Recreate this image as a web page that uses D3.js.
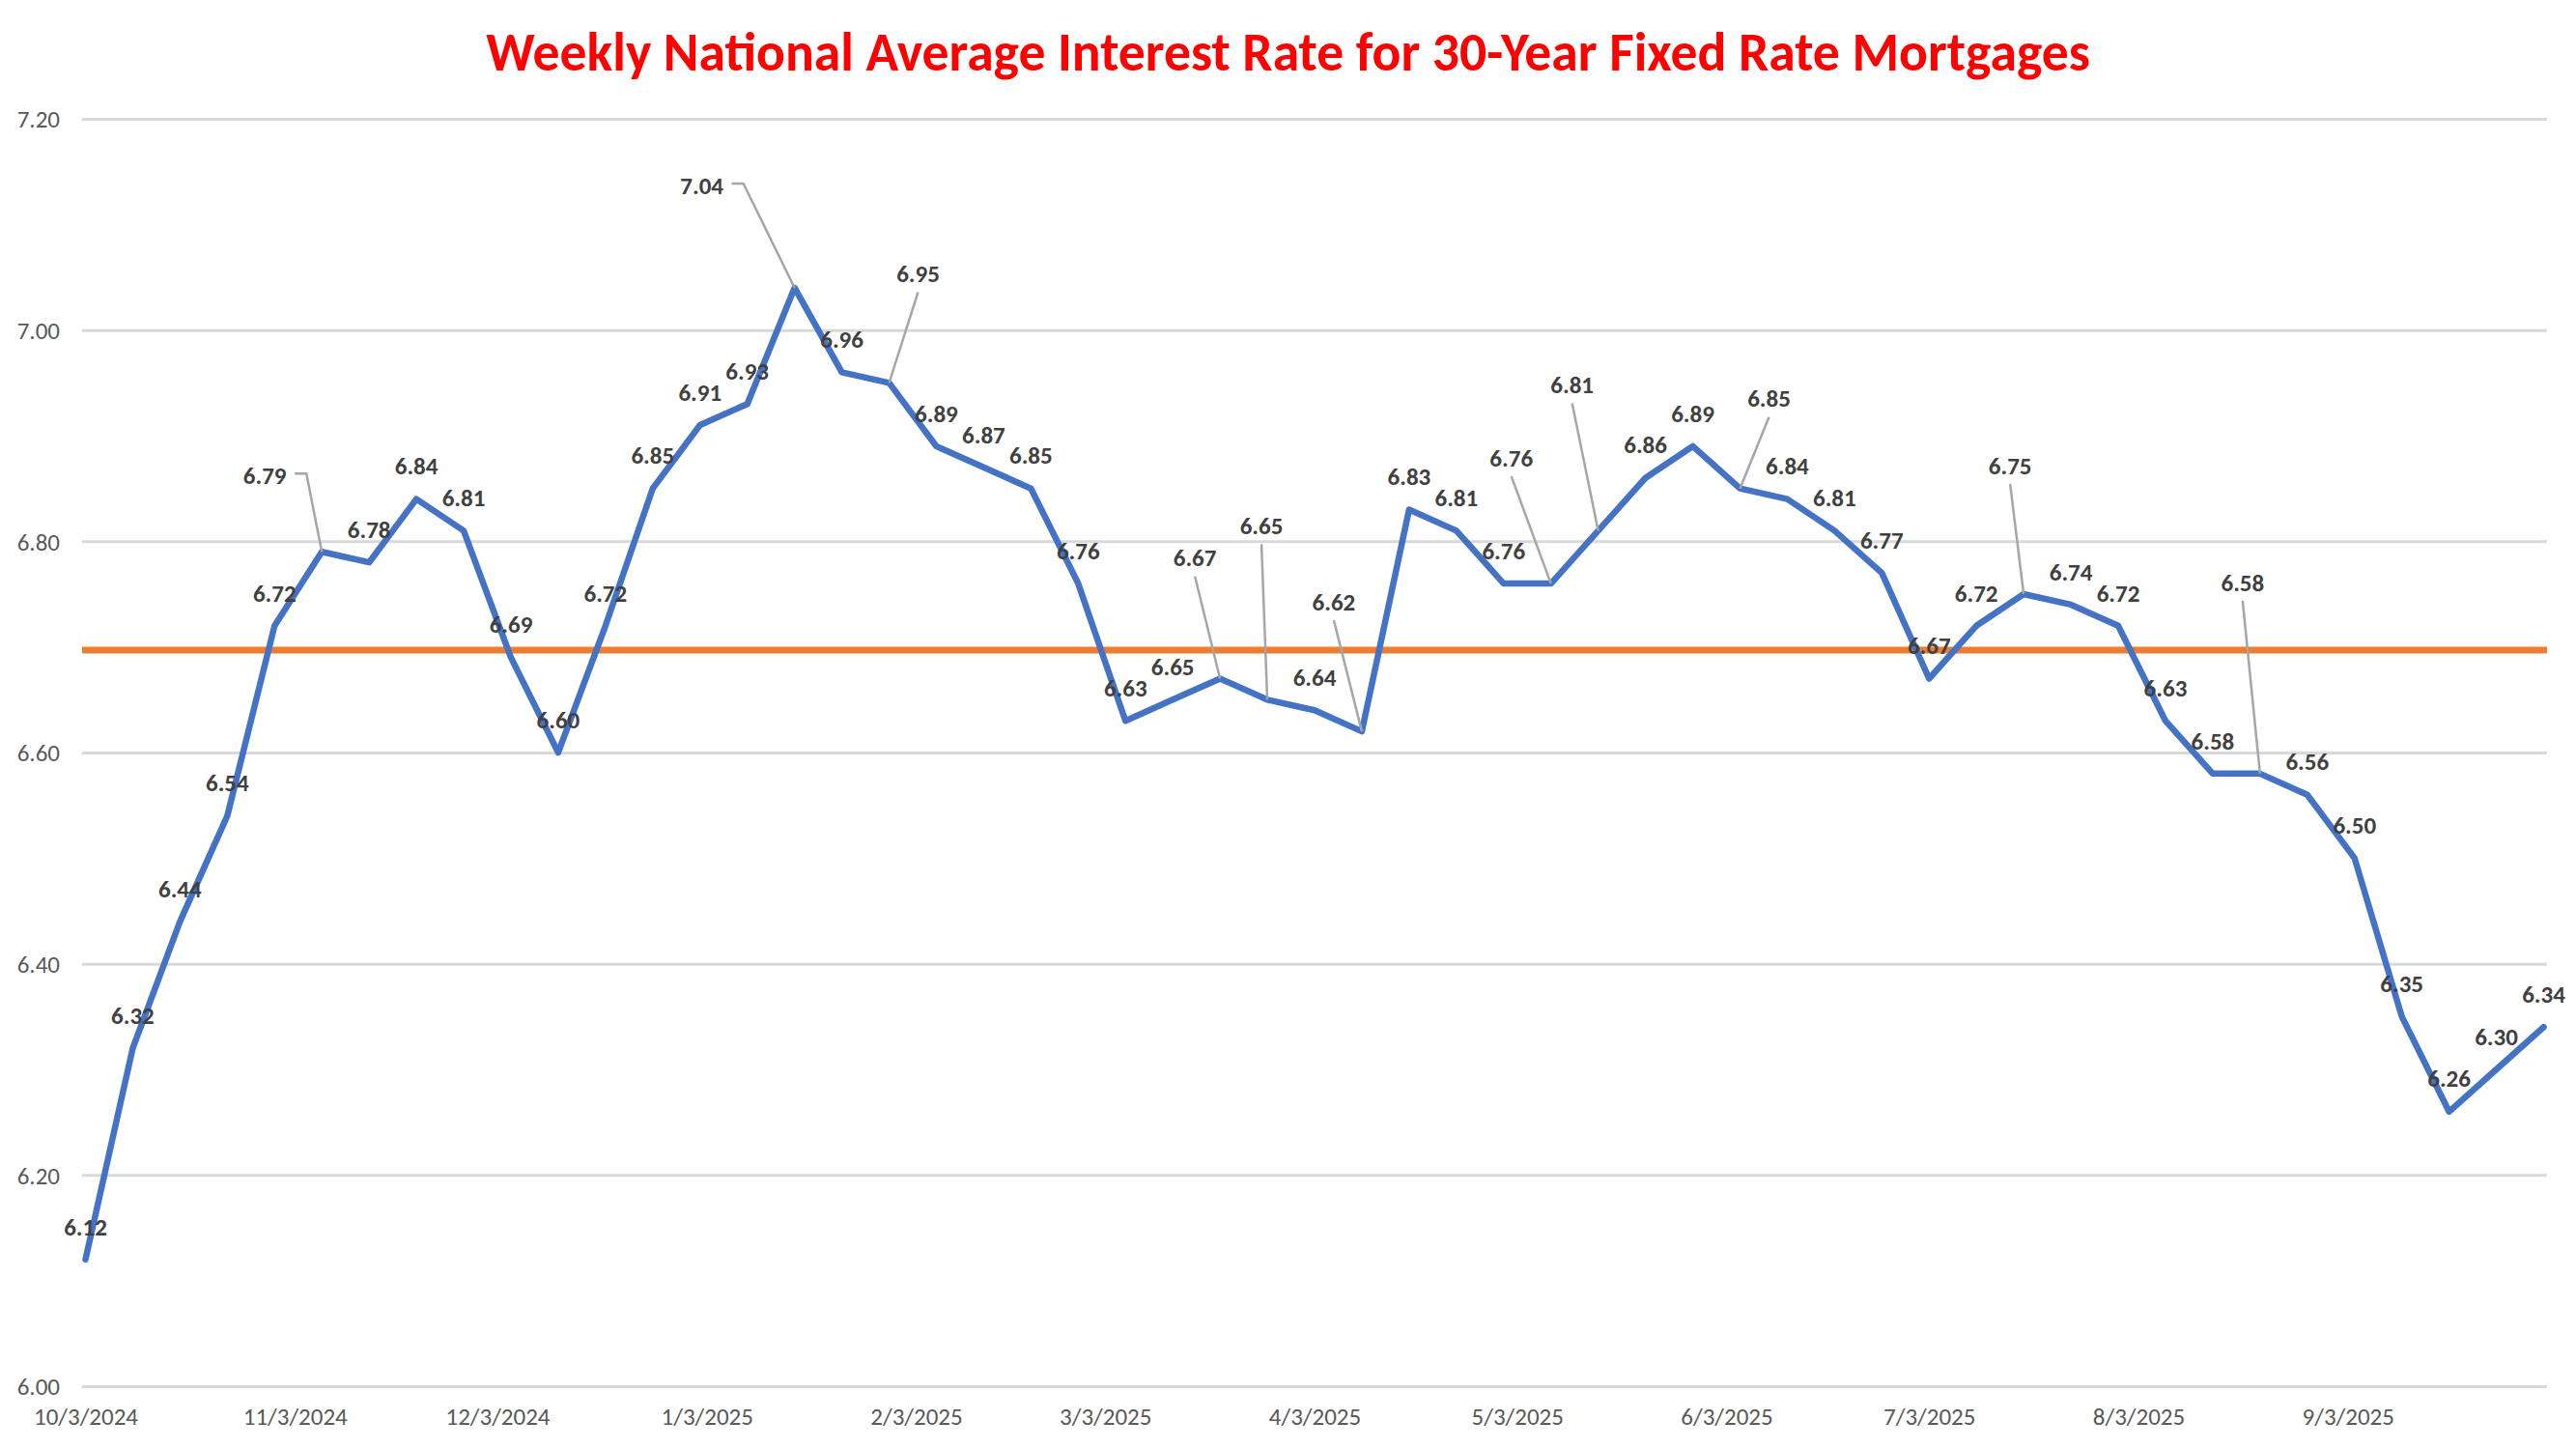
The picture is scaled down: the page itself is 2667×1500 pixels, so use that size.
<!DOCTYPE html>
<html>
<head>
<meta charset="utf-8">
<script src="https://cdn.jsdelivr.net/npm/d3@7"></script>
<style>
  body { margin: 0; background: #ffffff; }
  text { font-family: Carlito, "Liberation Sans", Arial, sans-serif; }
</style>
</head>
<body>
<script>
const width = 2667;
const height = 1500;

// weekly survey dates and 30-year fixed rates
const weekDates = [
  "10/3/2024","10/10/2024","10/17/2024","10/24/2024","10/31/2024","11/7/2024","11/14/2024","11/21/2024","11/28/2024",
  "12/5/2024","12/12/2024","12/19/2024","12/26/2024","1/2/2025","1/9/2025","1/16/2025","1/23/2025","1/30/2025",
  "2/6/2025","2/13/2025","2/20/2025","2/27/2025","3/6/2025","3/13/2025","3/20/2025","3/27/2025","4/3/2025",
  "4/10/2025","4/17/2025","4/24/2025","5/1/2025","5/8/2025","5/15/2025","5/22/2025","5/29/2025","6/5/2025",
  "6/12/2025","6/19/2025","6/26/2025","7/3/2025","7/10/2025","7/17/2025","7/24/2025","7/31/2025","8/7/2025",
  "8/14/2025","8/21/2025","8/28/2025","9/4/2025","9/11/2025","9/18/2025","9/25/2025","10/2/2025"
];
const rates = [
  6.12, 6.32, 6.44, 6.54, 6.72, 6.79, 6.78, 6.84, 6.81,
  6.69, 6.60, 6.72, 6.85, 6.91, 6.93, 7.04, 6.96, 6.95,
  6.89, 6.87, 6.85, 6.76, 6.63, 6.65, 6.67, 6.65, 6.64,
  6.62, 6.83, 6.81, 6.76, 6.76, 6.81, 6.86, 6.89, 6.85,
  6.84, 6.81, 6.77, 6.67, 6.72, 6.75, 6.74, 6.72, 6.63,
  6.58, 6.58, 6.56, 6.50, 6.35, 6.26, 6.30, 6.34
];
const averageRate = 6.697;   // orange reference line
const yTicks = [6.00, 6.20, 6.40, 6.60, 6.80, 7.00, 7.20];
const xTickLabels = ["10/3/2024","11/3/2024","12/3/2024","1/3/2025","2/3/2025","3/3/2025",
  "4/3/2025","5/3/2025","6/3/2025","7/3/2025","8/3/2025","9/3/2025"];
const titleText = "Weekly National Average Interest Rate for 30-Year Fixed Rate Mortgages";

// labels that were dragged away from their point (offset of label centre, in px)
const labelMoves = {
  5:  {dx: -59, dy: -79,  hook: true},
  15: {dx: -96, dy: -106, hook: true},
  17: {dx: 30,  dy: -113},
  24: {dx: -26, dy: -125},
  25: {dx: -6,  dy: -180},
  27: {dx: -29, dy: -134},
  31: {dx: -41, dy: -130},
  32: {dx: -27, dy: -151},
  35: {dx: 30,  dy: -93},
  41: {dx: -14, dy: -133},
  46: {dx: -18, dy: -198}
};

const plotLeft = 85, plotRight = 2637, plotTop = 123, plotBottom = 1435;
const parseDate = d3.timeParse("%m/%d/%Y");
const halfDay = 12 * 3600 * 1000;

var data = weekDates.map(function(d, i){
  return {date: parseDate(d), rate: rates[i], idx: i};
});

var xScale = d3.scaleTime()
  .domain([new Date(data[0].date.getTime() - halfDay), new Date(data[data.length-1].date.getTime() + halfDay)])
  .range([plotLeft, plotRight]);
var yScale = d3.scaleLinear().domain([6.0, 7.2]).range([plotBottom, plotTop]);

var svg = d3.select("body")
  .append("svg")
  .attr("width", width)
  .attr("height", height)
  .style("display", "block");

svg.append("rect").attr("width", width).attr("height", height).attr("fill", "#ffffff");

// title, sized to the reference width
var title = svg.append("text")
  .attr("x", width / 2)
  .attr("y", 73)
  .attr("text-anchor", "middle")
  .attr("fill", "#ff0000")
  .attr("font-weight", "bold")
  .attr("font-size", 50)
  .text(titleText);
var tw = title.node().getComputedTextLength();
title.attr("font-size", 50 * 1661 / tw);

// y axis + gridlines
var yAxis = svg.append("g")
  .attr("transform", "translate(" + plotLeft + ",0)")
  .call(d3.axisLeft(yScale)
    .tickValues(yTicks)
    .tickSize(-(plotRight - plotLeft))
    .tickPadding(23)
    .tickFormat(d3.format(".2f")));
yAxis.select(".domain").remove();
yAxis.selectAll("line").attr("stroke", "#d9d9d9").attr("stroke-width", 3);
yAxis.selectAll("text")
  .attr("fill", "#595959")
  .attr("font-size", 25)
  .attr("dy", "0.35em");

// x axis labels
var xAxis = svg.append("g")
  .attr("transform", "translate(0," + plotBottom + ")")
  .call(d3.axisBottom(xScale)
    .tickValues(xTickLabels.map(parseDate))
    .tickSize(0)
    .tickFormat(function(d, i){ return xTickLabels[i]; }));
xAxis.select(".domain").remove();
xAxis.selectAll("text")
  .attr("fill", "#595959")
  .attr("font-size", 25)
  .attr("y", 40)
  .attr("dy", 0);

// average line
svg.append("line")
  .attr("x1", plotLeft)
  .attr("x2", plotRight)
  .attr("y1", yScale(averageRate))
  .attr("y2", yScale(averageRate))
  .attr("stroke", "#ed7d31")
  .attr("stroke-width", 7);

// rate line
var line = d3.line()
  .x(function(d){ return xScale(d.date); })
  .y(function(d){ return yScale(d.rate); });

svg.append("path")
  .datum(data)
  .attr("d", line)
  .attr("fill", "none")
  .attr("stroke", "#4472c4")
  .attr("stroke-width", 6.5)
  .attr("stroke-linejoin", "round")
  .attr("stroke-linecap", "round");

// leader lines for moved labels
var moved = data.filter(function(d){ return labelMoves[d.idx]; });
svg.selectAll(".leader")
  .data(moved)
  .enter()
  .append("path")
  .attr("class", "leader")
  .attr("fill", "none")
  .attr("stroke", "#a6a6a6")
  .attr("stroke-width", 2.5)
  .attr("d", function(d){
    var m = labelMoves[d.idx];
    var px = xScale(d.date), py = yScale(d.rate);
    var lx = px + m.dx, ly = py + m.dy;
    if (m.hook) {
      return "M" + (lx + 31) + "," + (ly - 2) + "L" + (lx + 43) + "," + (ly - 2) + "L" + px + "," + py;
    }
    return "M" + lx + "," + (ly + 19) + "L" + px + "," + py;
  });

// data labels
svg.selectAll(".dlabel")
  .data(data)
  .enter()
  .append("text")
  .attr("class", "dlabel")
  .attr("x", function(d){
    var m = labelMoves[d.idx];
    return xScale(d.date) + (m ? m.dx : 0);
  })
  .attr("y", function(d){
    var m = labelMoves[d.idx];
    return yScale(d.rate) + (m ? m.dy : -34);
  })
  .attr("dy", "0.35em")
  .attr("text-anchor", "middle")
  .attr("font-size", 25)
  .attr("font-weight", "bold")
  .attr("fill", "#404040")
  .text(function(d){ return d.rate.toFixed(2); });
</script>
</body>
</html>
